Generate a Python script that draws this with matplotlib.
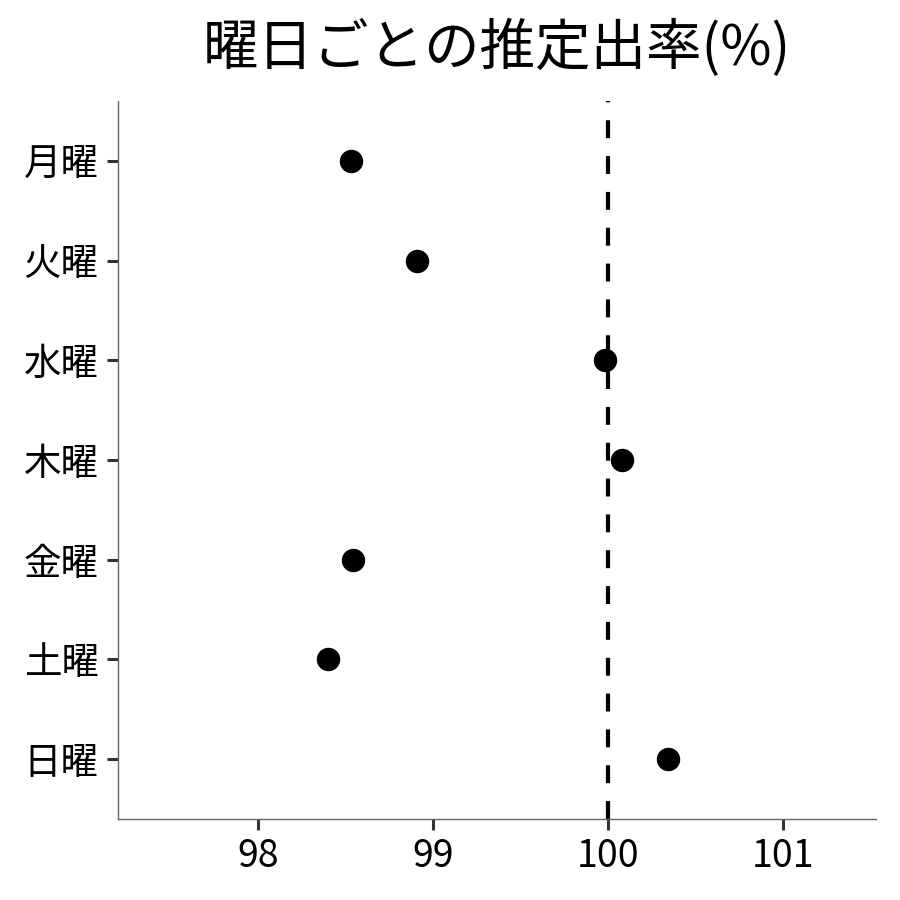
import matplotlib
matplotlib.use('Agg')
import matplotlib.pyplot as plt

plt.rcParams['font.family'] = ['Noto Sans CJK JP', 'DejaVu Sans']

# 曜日ごとの推定出率(%)
days = ['月曜', '火曜', '水曜', '木曜', '金曜', '土曜', '日曜']
rates = [98.53, 98.91, 99.98, 100.08, 98.54, 98.40, 100.34]
ref_line = 100
xticks = [98, 99, 100, 101]

fig = plt.figure(figsize=(9, 9), dpi=100)
ax = fig.add_axes([0.1311, 0.09, 0.8422, 0.7978])

ypos = [len(days) - 1 - i for i in range(len(days))]
ax.scatter(rates, ypos, s=285, color='black', zorder=3, linewidths=0)
ax.axvline(ref_line, color='black', linewidth=3.0, dashes=(4.3, 4.3), zorder=2)

ax.set_xlim(97.2, 101.53)
ax.set_ylim(-0.6, 6.6)
ax.set_yticks(ypos)
ax.set_yticklabels(days)
ax.set_xticks(xticks)
ax.set_xticklabels([str(v) for v in xticks])

for s in ['top', 'right']:
    ax.spines[s].set_visible(False)
for s in ['left', 'bottom']:
    ax.spines[s].set_color('#666666')
    ax.spines[s].set_linewidth(1.0)

ax.tick_params(axis='both', length=8, width=2.2, color='#333333', labelsize=27, labelcolor='black')
ax.tick_params(axis='y', pad=6)
ax.tick_params(axis='x', pad=5)

fig.suptitle('曜日ごとの推定出率(%)', x=0.552, y=0.978, fontsize=40, va='top')

fig.savefig('out.png', dpi=100)
